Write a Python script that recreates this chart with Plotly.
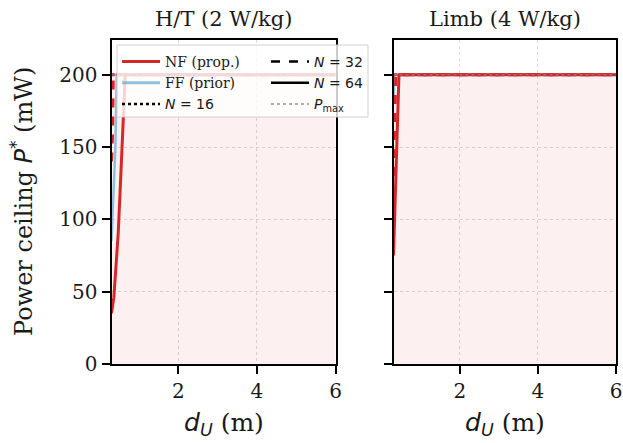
import plotly.graph_objects as go

# ---- data -------------------------------------------------------------
D_RANGE = [0.3, 6.0]          # separation d_U range (m)
P_MAX = 200                   # regulatory power cap (mW)
Y_TOP = 224
X_TICKS = [2, 4, 6]
Y_TICKS = [0, 50, 100, 150, 200]
PANEL_TITLES = ["H/T (2 W/kg)", "Limb (4 W/kg)"]

# H/T panel, near-field (proposed)
HT_NF_N16_D = [0.30, 6.0]
HT_NF_N16_P = [200, 200]
HT_NF_N32_D = [0.30, 0.33, 0.345, 6.0]
HT_NF_N32_P = [140, 160, 200, 200]
HT_NF_N64_D = [0.30, 0.36, 0.42, 0.47, 0.52, 0.57, 0.61, 0.65, 6.0]
HT_NF_N64_P = [35, 46, 70, 90, 120, 150, 172, 200, 200]
# H/T panel, far-field (prior)
HT_FF_N16_D = [0.30, 6.0]
HT_FF_N16_P = [200, 200]
HT_FF_N32_D = [0.30, 6.0]
HT_FF_N32_P = [200, 200]
HT_FF_N64_D = [0.30, 0.33, 0.38, 0.40, 0.43, 0.435, 6.0]
HT_FF_N64_P = [85, 107, 131, 150, 197, 200, 200]

# Limb panel, near-field (proposed)
LB_NF_N16_D = [0.30, 6.0]
LB_NF_N16_P = [200, 200]
LB_NF_N32_D = [0.30, 0.33, 0.36, 6.0]
LB_NF_N32_P = [130, 160, 200, 200]
LB_NF_N64_D = [0.30, 0.34, 0.38, 0.42, 0.44, 6.0]
LB_NF_N64_P = [75, 110, 145, 185, 200, 200]
# Limb panel, far-field (prior)
LB_FF_N16_D = [0.30, 6.0]
LB_FF_N16_P = [200, 200]
LB_FF_N32_D = [0.30, 6.0]
LB_FF_N32_P = [200, 200]
LB_FF_N64_D = [0.30, 0.32, 6.0]
LB_FF_N64_P = [180, 200, 200]

# ---- styling ----------------------------------------------------------
SERIF = "DejaVu Serif"
SANS = "DejaVu Sans"
INK = "#1a1a1a"
RED = "#d62728"
BLUE = "rgba(107,174,214,0.75)"
DASH = {16: "dot", 32: "dash", 64: "solid"}
FILL = "rgba(214,39,40,0.07)"
PMAX_COLOR = "rgba(128,128,128,0.85)"

W, H = 623, 443
X1 = [111.5 / W, 335.5 / W]
X2 = [393.5 / W, 616.0 / W]
YD = [1 - 364 / H, 1 - 40 / H]

fig = go.Figure()

curves = {
    1: {
        ("FF", 16): (HT_FF_N16_D, HT_FF_N16_P),
        ("FF", 32): (HT_FF_N32_D, HT_FF_N32_P),
        ("FF", 64): (HT_FF_N64_D, HT_FF_N64_P),
        ("NF", 16): (HT_NF_N16_D, HT_NF_N16_P),
        ("NF", 32): (HT_NF_N32_D, HT_NF_N32_P),
        ("NF", 64): (HT_NF_N64_D, HT_NF_N64_P),
    },
    2: {
        ("FF", 16): (LB_FF_N16_D, LB_FF_N16_P),
        ("FF", 32): (LB_FF_N32_D, LB_FF_N32_P),
        ("FF", 64): (LB_FF_N64_D, LB_FF_N64_P),
        ("NF", 16): (LB_NF_N16_D, LB_NF_N16_P),
        ("NF", 32): (LB_NF_N32_D, LB_NF_N32_P),
        ("NF", 64): (LB_NF_N64_D, LB_NF_N64_P),
    },
}

for panel in (1, 2):
    xa = "x" if panel == 1 else "x2"
    ya = "y" if panel == 1 else "y2"
    # feasible region under the power cap
    fig.add_trace(go.Scatter(x=D_RANGE, y=[P_MAX, P_MAX], mode="lines",
                             fill="tozeroy", fillcolor=FILL,
                             line=dict(width=0), showlegend=False,
                             hoverinfo="skip", xaxis=xa, yaxis=ya))
    for (method, n), (d, p) in curves[panel].items():
        color = RED if method == "NF" else BLUE
        width = 3 if method == "NF" else 2.5
        fig.add_trace(go.Scatter(x=d, y=p, mode="lines",
                                 line=dict(color=color, width=width, dash=DASH[n]),
                                 showlegend=False, xaxis=xa, yaxis=ya))
    fig.add_trace(go.Scatter(x=D_RANGE, y=[P_MAX, P_MAX], mode="lines",
                             line=dict(color=PMAX_COLOR, width=1.5, dash="dot"),
                             showlegend=False, xaxis=xa, yaxis=ya))


def math(s):
    return f"<span style='font-family:{SANS}'>{s}</span>"


# legend entries (two columns)
legend_items = [
    ("NF (prop.)", RED, "solid", 3, "legend"),
    ("FF (prior)", BLUE, "solid", 3, "legend"),
    (math("<i>N</i> = 16"), "black", "dot", 2.5, "legend"),
    (math("<i>N</i> = 32"), "black", "dash", 2.5, "legend2"),
    (math("<i>N</i> = 64"), "black", "solid", 2.5, "legend2"),
    (math("<i>P</i><sub>max</sub>"), PMAX_COLOR, "dot", 1.5, "legend2"),
]
for name, color, dash, width, leg in legend_items:
    fig.add_trace(go.Scatter(x=[None], y=[None], mode="lines", name=name,
                             line=dict(color=color, dash=dash, width=width),
                             legend=leg))

axis_common = dict(
    showline=True, linecolor="black", linewidth=2, mirror=True,
    ticks="outside", ticklen=8, tickwidth=2, tickcolor="black",
    showgrid=True, gridcolor="rgba(0,0,0,0.14)", griddash="dot", gridwidth=1,
    zeroline=False, tickfont=dict(family=SERIF, size=20, color=INK),
)

leg_common = dict(bgcolor="rgba(0,0,0,0)", borderwidth=0,
                  font=dict(family=SERIF, size=14, color=INK),
                  xanchor="left", yanchor="top", tracegroupgap=0,
                  itemwidth=38)

fig.update_layout(
    width=W, height=H, margin=dict(l=0, r=0, t=0, b=0, autoexpand=False),
    paper_bgcolor="white", plot_bgcolor="white",
    xaxis=dict(domain=X1, range=D_RANGE, tickvals=X_TICKS, anchor="y", **axis_common),
    yaxis=dict(domain=YD, range=[0, Y_TOP], tickvals=Y_TICKS, anchor="x", **axis_common),
    xaxis2=dict(domain=X2, range=D_RANGE, tickvals=X_TICKS, anchor="y2", **axis_common),
    yaxis2=dict(domain=YD, range=[0, Y_TOP], tickvals=Y_TICKS, anchor="x2",
                showticklabels=False, **axis_common),
    legend=dict(x=117 / W, y=1 - 46 / H, **leg_common),
    legend2=dict(x=266 / W, y=1 - 46 / H, **leg_common),
    shapes=[dict(type="rect", xref="paper", yref="paper", layer="above",
                 x0=117 / W, x1=368 / W, y0=1 - 117 / H, y1=1 - 45 / H,
                 fillcolor="rgba(255,255,255,0.8)",
                 line=dict(color="rgba(204,204,204,0.9)", width=1))],
)

annotations = []
for i, title in enumerate(PANEL_TITLES):
    dom = X1 if i == 0 else X2
    annotations.append(dict(text=title, xref="paper", yref="paper",
                            x=(dom[0] + dom[1]) / 2, y=1 - 19 / H,
                            xanchor="center", yanchor="middle", showarrow=False,
                            font=dict(family=SERIF, size=21, color=INK)))
    annotations.append(dict(text=math("<i>d</i><sub><i>U</i></sub>") + " (m)",
                            xref="paper", yref="paper",
                            x=(dom[0] + dom[1]) / 2, y=1 - 424 / H,
                            xanchor="center", yanchor="middle", showarrow=False,
                            font=dict(family=SERIF, size=25, color=INK)))
annotations.append(dict(text="Power ceiling " + math("<i>P</i><sup>*</sup>") + " (mW)",
                        xref="paper", yref="paper", x=22 / W, y=(YD[0] + YD[1]) / 2,
                        textangle=-90, xanchor="center", yanchor="middle",
                        showarrow=False, font=dict(family=SERIF, size=24, color=INK)))
fig.update_layout(annotations=annotations)

fig.write_html("out.html")
